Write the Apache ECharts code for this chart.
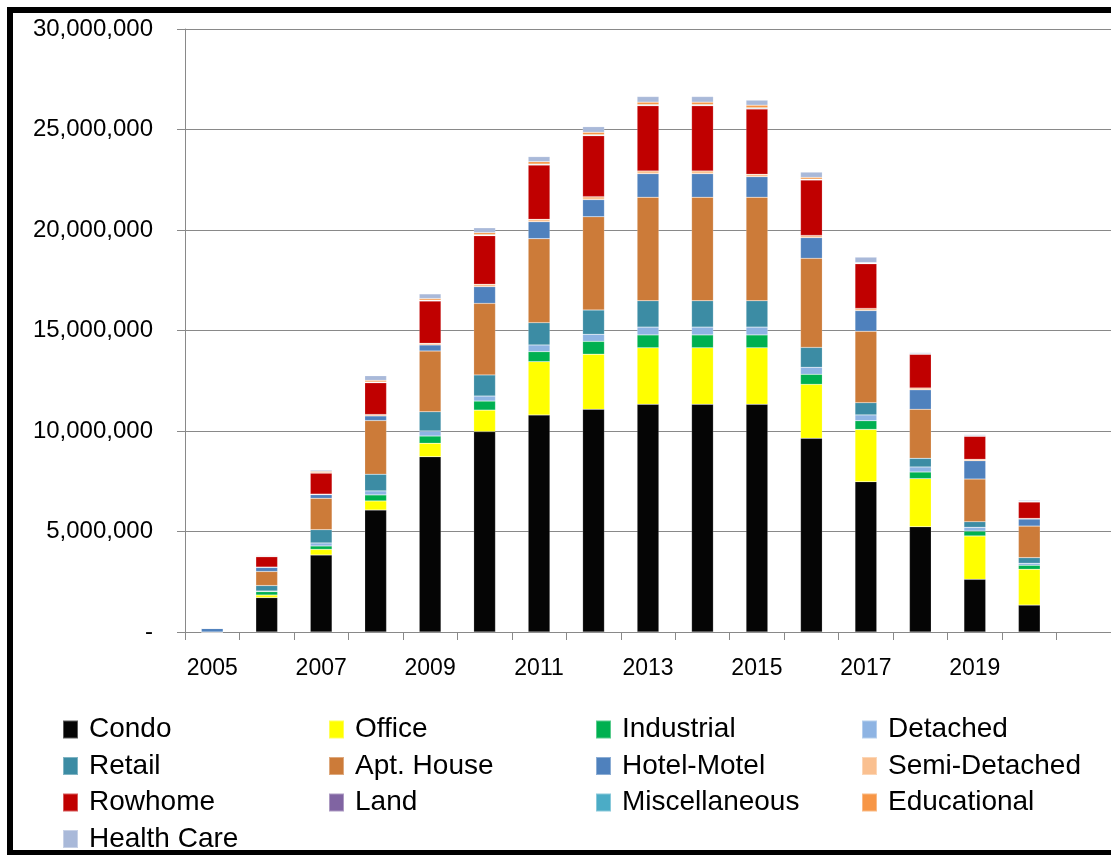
<!DOCTYPE html>
<html>
<head>
<meta charset="utf-8">
<script src="https://cdn.jsdelivr.net/npm/echarts@6/dist/echarts.min.js"></script>
<style>
html,body{margin:0;padding:0;background:#fff;}
#c{width:1111px;height:855px;}
</style>
</head>
<body>
<div id="c"></div>
<script>
// Categories (last entry is the empty trailing slot of the original plot area)
const years = ['2005','2006','2007','2008','2009','2010','2011','2012','2013','2014','2015','2016','2017','2018','2019','2020',''];
const yTicks = [0, 5000000, 10000000, 15000000, 20000000, 25000000, 30000000];

const condo        = [0, 1710000, 3830000, 6070000, 8720000, 9970000, 10800000, 11080000, 11330000, 11330000, 11330000, 9640000, 7480000, 5240000, 2620000, 1340000];
const office       = [0, 130000, 280000, 450000, 670000, 1070000, 2650000, 2740000, 2810000, 2810000, 2810000, 2680000, 2600000, 2390000, 2160000, 1780000];
const industrial   = [0, 170000, 170000, 300000, 360000, 450000, 500000, 640000, 640000, 640000, 640000, 500000, 430000, 330000, 240000, 200000];
const detached     = [0, 30000, 150000, 200000, 250000, 250000, 330000, 350000, 390000, 390000, 390000, 350000, 290000, 250000, 190000, 100000];
const retail       = [0, 270000, 660000, 830000, 960000, 1050000, 1110000, 1210000, 1310000, 1310000, 1310000, 990000, 610000, 430000, 280000, 280000];
const aptHouse     = [0, 700000, 1560000, 2670000, 3020000, 3560000, 4180000, 4640000, 5150000, 5150000, 5150000, 4430000, 3550000, 2440000, 2120000, 1570000];
const hotelMotel   = [180000, 200000, 180000, 230000, 300000, 830000, 840000, 850000, 1170000, 1170000, 1020000, 1030000, 1030000, 970000, 910000, 350000];
const semiDetached = [0, 20000, 30000, 70000, 80000, 120000, 120000, 150000, 140000, 140000, 120000, 110000, 110000, 90000, 70000, 30000];
const rowhome      = [0, 520000, 1050000, 1580000, 2110000, 2420000, 2700000, 3030000, 3240000, 3240000, 3250000, 2760000, 2220000, 1680000, 1150000, 820000];
const land         = [0, 0, 0, 20000, 20000, 20000, 20000, 20000, 30000, 30000, 30000, 20000, 20000, 10000, 10000, 10000];
const miscellaneous= [0, 20000, 20000, 20000, 20000, 30000, 30000, 30000, 30000, 30000, 30000, 20000, 20000, 10000, 10000, 10000];
const educational  = [0, 20000, 60000, 80000, 80000, 100000, 120000, 120000, 120000, 120000, 130000, 90000, 20000, 10000, 10000, 10000];
const healthCare   = [0, 30000, 60000, 230000, 230000, 240000, 250000, 280000, 280000, 280000, 250000, 260000, 270000, 50000, 50000, 50000];

const seriesDefs = [
  ['Condo', condo, '#050505'],
  ['Office', office, '#FFFF00'],
  ['Industrial', industrial, '#00B050'],
  ['Detached', detached, '#8EB4E3'],
  ['Retail', retail, '#3C8CA4'],
  ['Apt. House', aptHouse, '#CC7B39'],
  ['Hotel-Motel', hotelMotel, '#4F81BD'],
  ['Semi-Detached', semiDetached, '#FAC090'],
  ['Rowhome', rowhome, '#C00000'],
  ['Land', land, '#8064A2'],
  ['Miscellaneous', miscellaneous, '#4BACC6'],
  ['Educational', educational, '#F79646'],
  ['Health Care', healthCare, '#A9B9D9']
];

const FONT = 'Liberation Sans';
const chart = echarts.init(document.getElementById('c'), null, {renderer:'canvas'});

const legendCols = [
  ['Condo','Retail','Rowhome','Health Care'],
  ['Office','Apt. House','Land'],
  ['Industrial','Hotel-Motel','Miscellaneous'],
  ['Detached','Semi-Detached','Educational']
];
const colLeft = [62, 328, 595, 861];
const legends = legendCols.map((d, i) => ({
  data: d,
  orient: 'vertical',
  left: colLeft[i],
  top: 715,
  padding: 0,
  itemWidth: 15,
  itemHeight: 18,
  itemGap: 7.5,
  icon: 'rect',
  selectedMode: false,
  textStyle: {fontFamily: FONT, fontSize: 28, color: '#000', lineHeight: 29, padding: [0,0,0,6]}
}));

chart.setOption({
  animation: false,
  backgroundColor: '#fff',
  textStyle: {fontFamily: FONT},
  graphic: [{
    type: 'rect', silent: true,
    shape: {x: 10, y: 10, width: 1200, height: 843},
    style: {fill: 'none', stroke: '#000', lineWidth: 6},
    z: 100
  }],
  legend: legends,
  grid: {left: 185, right: -6, top: 29, bottom: 223, containLabel: false},
  xAxis: {
    type: 'category',
    data: years,
    boundaryGap: true,
    axisLine: {show: true, lineStyle: {color: '#898989', width: 1}},
    axisTick: {show: true, interval: 0, length: 8, lineStyle: {color: '#898989'}},
    axisLabel: {interval: 1, margin: 25, fontFamily: FONT, fontSize: 23, color: '#000'},
    splitLine: {show: false}
  },
  yAxis: {
    type: 'value',
    min: yTicks[0],
    max: yTicks[yTicks.length - 1],
    interval: 5000000,
    axisLine: {show: true, lineStyle: {color: '#898989', width: 1}},
    axisTick: {show: true, length: 8, lineStyle: {color: '#898989'}},
    axisLabel: {
      margin: 32, fontFamily: FONT, fontSize: 24, color: '#000',
      formatter: v => v === 0 ? '-' : v.toLocaleString('en-US')
    },
    splitLine: {show: true, lineStyle: {color: '#898989', width: 1}}
  },
  series: seriesDefs.map(([name, data, color]) => ({
    name, type: 'bar', stack: 'total', data,
    barWidth: '40%',
    itemStyle: {color, borderColor: 'rgba(255,255,255,0.35)', borderWidth: 0.5},
    emphasis: {disabled: true}
  }))
});
</script>
</body>
</html>
